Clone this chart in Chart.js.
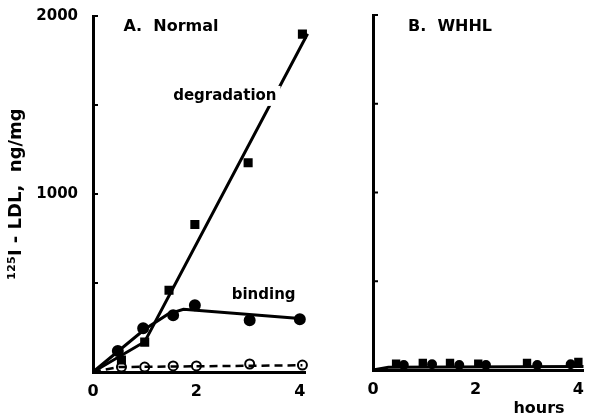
<!DOCTYPE html>
<html>
<head>
<meta charset="utf-8">
<script src="https://cdn.jsdelivr.net/npm/chart.js@4/dist/chart.umd.min.js"></script>
<style>
  html, body { margin: 0; padding: 0; background: #fff; }
  #wrap { position: relative; width: 590px; height: 418px; overflow: hidden; }
  #cA { position: absolute; left: 0; top: 0; }
  #cB { position: absolute; left: 330px; top: 0; }
</style>
</head>
<body>
<div id="wrap">
  <canvas id="cA" width="330" height="418"></canvas>
  <canvas id="cB" width="260" height="418"></canvas>
</div>
<script>
// ---- Data ----
const xTicks = [0, 2, 4];
const yTicks = [500, 1000, 1500, 2000];
const yTickLabels = { 1000: '1000', 2000: '2000' };

// Panel A. Normal
const degradationHours = [0.55, 1.0, 1.47, 1.97, 3.0, 4.05];
const degradationValues = [67, 168, 459, 829, 1176, 1898];
const degradationFitHours = [0, 1.0, 4.15];
const degradationFitValues = [0, 170, 1900];

const bindingHours = [0.48, 0.97, 1.55, 1.97, 3.03, 4.0];
const bindingValues = [118, 246, 319, 375, 291, 297];
const bindingFitHours = [0, 1.0, 1.45, 1.75, 4.0];
const bindingFitValues = [0, 240, 325, 352, 300];

const nonspecificHours = [0.55, 1.0, 1.55, 2.0, 3.03, 4.05];
const nonspecificValues = [28, 28, 34, 34, 45, 39];
const nonspecificFitHours = [0, 0.5, 4.05];
const nonspecificFitValues = [0, 28, 38];

// Panel B. WHHL
const whhlDegHours = [0.45, 0.97, 1.5, 2.05, 3.0, 4.0];
const whhlDegValues = [35, 40, 40, 35, 40, 45];
const whhlBindHours = [0.6, 1.15, 1.68, 2.2, 3.2, 3.85];
const whhlBindValues = [28, 32, 28, 28, 28, 32];
const whhlFitHours = [0, 0.3, 4.1];
const whhlFitValues = [0, 15, 20];

const panelTitles = ['A.  Normal', 'B.  WHHL'];
const yAxisTitle = '¹²⁵I - LDL,  ng/mg';
const xAxisTitle = 'hours';

// ---- helpers ----
function pts(xs, ys) { return xs.map((x, i) => ({ x: x, y: ys[i] })); }
const FONT = "'DejaVu Sans', sans-serif";

const inwardTicks = {
  id: 'inwardTicks',
  afterDraw(chart) {
    const ctx = chart.ctx, y = chart.scales.y, x = chart.scales.x;
    ctx.save();
    ctx.strokeStyle = '#000';
    ctx.lineWidth = 2;
    yTicks.forEach(v => {
      const py = y.getPixelForValue(v);
      ctx.beginPath();
      ctx.moveTo(x.left - 1, py);
      ctx.lineTo(x.left + 5, py);
      ctx.stroke();
    });
    ctx.restore();
  }
};

const textPlugin = {
  id: 'texts',
  afterDraw(chart, args, opts) {
    const ctx = chart.ctx, xs = chart.scales.x, ys = chart.scales.y;
    ctx.save();
    (opts.items || []).forEach(it => {
      ctx.font = it.font;
      ctx.textAlign = it.align || 'center';
      ctx.textBaseline = 'middle';
      const px = it.px !== undefined ? it.px : xs.getPixelForValue(it.x);
      const py = it.py !== undefined ? it.py : ys.getPixelForValue(it.y);
      if (it.knockout) {
        const w = ctx.measureText(it.text).width;
        ctx.fillStyle = '#fff';
        ctx.fillRect(px - w / 2 - 2, py - 10, w + 6, 20);
      }
      ctx.fillStyle = '#000';
      ctx.fillText(it.text, px, py);
    });
    ctx.restore();
  }
};

function makeOptions(cfg) {
  return {
    responsive: false,
    animation: false,
    layout: { padding: { left: cfg.padLeft, right: cfg.padRight, top: 15, bottom: 0 } },
    plugins: {
      legend: { display: false },
      tooltip: { enabled: false },
      texts: { items: cfg.texts }
    },
    scales: {
      x: {
        type: 'linear', min: 0, max: 4.1,
        afterBuildTicks: s => { s.ticks = xTicks.map(v => ({ value: v })); },
        afterFit: s => { s.height = 418 - cfg.bottom; },
        grid: { display: false },
        border: { display: true, color: '#000', width: 3 },
        ticks: { color: '#000', font: { family: FONT, size: 16, weight: 'bold' }, padding: 2, maxRotation: 0 }
      },
      y: {
        type: 'linear', min: 0, max: 2000,
        afterBuildTicks: s => { s.ticks = yTicks.map(v => ({ value: v })); },
        afterFit: s => { s.width = cfg.axisX - cfg.padLeft; },
        grid: { display: false },
        border: { display: true, color: '#000', width: 3 },
        ticks: {
          display: cfg.showYLabels,
          color: '#000', font: { family: FONT, size: 15, weight: 'bold' }, padding: 7,
          callback: v => yTickLabels[v] || ''
        },
        title: cfg.showYLabels ? {
          display: true, text: yAxisTitle, color: '#000',
          font: { family: FONT, size: 18, weight: 'bold' }, padding: { top: 4, bottom: 0 }
        } : { display: false }
      }
    }
  };
}

const lineDs = (data, dash, width) => ({
  type: 'line', data: data, borderColor: '#000', borderWidth: width || 3,
  borderDash: dash || [], pointRadius: 0, fill: false, tension: 0, clip: false
});
const markerDs = (data, style, filled, r) => ({
  type: 'scatter', data: data, showLine: false, pointStyle: style,
  pointRadius: r, backgroundColor: filled ? '#000' : '#fff',
  borderColor: '#000', borderWidth: 2, clip: false
});

new Chart(document.getElementById('cA'), {
  type: 'scatter',
  data: {
    datasets: [
      lineDs(pts(degradationFitHours, degradationFitValues)),
      lineDs(pts(bindingFitHours, bindingFitValues)),
      lineDs(pts(nonspecificFitHours, nonspecificFitValues), [8, 5], 2.5),
      markerDs(pts(degradationHours, degradationValues), 'rect', true, 5),
      markerDs(pts(bindingHours, bindingValues), 'circle', true, 5),
      markerDs(pts(nonspecificHours, nonspecificValues), 'circle', false, 4.5)
    ]
  },
  options: makeOptions({
    padLeft: 2, padRight: 330 - 305, axisX: 93, bottom: 372, showYLabels: true,
    texts: [
      { text: panelTitles[0], px: 171, py: 27, font: 'bold 16px ' + FONT },
      { text: 'degradation', x: 2.55, y: 1551, font: 'bold 15px ' + FONT, knockout: true },
      { text: 'binding', x: 3.3, y: 431, font: 'bold 15px ' + FONT }
    ]
  }),
  plugins: [inwardTicks, textPlugin]
});

new Chart(document.getElementById('cB'), {
  type: 'scatter',
  data: {
    datasets: [
      lineDs(pts(whhlFitHours, whhlFitValues)),
      markerDs(pts(whhlDegHours, whhlDegValues), 'rect', true, 4.5),
      markerDs(pts(whhlBindHours, whhlBindValues), 'circle', true, 4)
    ]
  },
  options: makeOptions({
    padLeft: 4, padRight: 260 - 255, axisX: 43, bottom: 370, showYLabels: false,
    texts: [
      { text: panelTitles[1], px: 120, py: 27, font: 'bold 16px ' + FONT },
      { text: xAxisTitle, px: 209, py: 409, font: 'bold 16px ' + FONT }
    ]
  }),
  plugins: [inwardTicks, textPlugin]
});
</script>
</body>
</html>
